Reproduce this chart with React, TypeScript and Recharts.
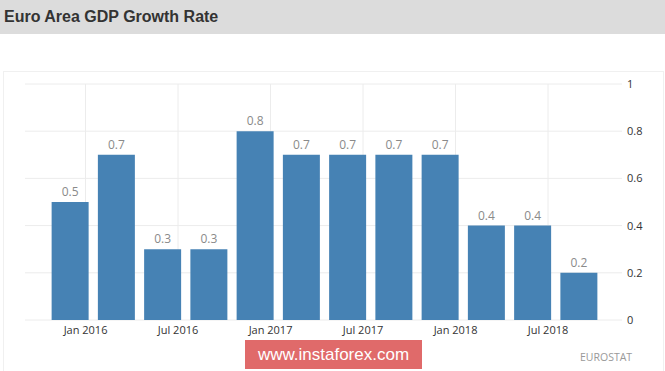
import React from 'react';
import { BarChart, Bar, XAxis, YAxis, CartesianGrid, LabelList } from 'recharts';

// quarterly GDP growth, q/q %
const quarters = ['Q4 2015', 'Q1 2016', 'Q2 2016', 'Q3 2016', 'Q4 2016', 'Q1 2017', 'Q2 2017', 'Q3 2017', 'Q4 2017', 'Q1 2018', 'Q2 2018', 'Q3 2018'];
const growth = [0.5, 0.7, 0.3, 0.3, 0.8, 0.7, 0.7, 0.7, 0.7, 0.4, 0.4, 0.2];
// quarter-end month, counted from Jan 2016
const quarterMonths = [-1, 2, 5, 8, 11, 14, 17, 20, 23, 26, 29, 32];

const tickMonths = [0, 6, 12, 18, 24, 30];
const tickLabels = ['Jan 2016', 'Jul 2016', 'Jan 2017', 'Jul 2017', 'Jan 2018', 'Jul 2018'];
const yTicks = [0, 0.2, 0.4, 0.6, 0.8, 1];

const data = quarters.map((q, i) => ({ quarter: q, month: quarterMonths[i], value: growth[i] }));

const xPad = { left: 22, right: 20 };
const monthDomain = [quarterMonths[0] - 1.5, quarterMonths[quarterMonths.length - 1] + 1.5];
const font = '"Open Sans", "DejaVu Sans", sans-serif';

// vertical grid only at the month ticks
const monthGridX = ({ xAxis, offset }: any) => {
  const s = xAxis && xAxis.scale;
  return tickMonths.map((m) => {
    if (typeof s === 'function') return s(m);
    if (s && typeof s.map === 'function') return s.map(m);
    const w = offset.width - xPad.left - xPad.right;
    return offset.left + xPad.left + ((m - monthDomain[0]) / (monthDomain[1] - monthDomain[0])) * w;
  });
};

export default function App() {
  return (
    <div style={{ position: 'absolute', left: 0, top: 0, width: 665, height: 371, background: '#fff', overflow: 'hidden' }}>
      <div
        style={{
          height: 34,
          background: '#dcdcdc',
          fontFamily: '"Liberation Sans", Arial, sans-serif',
          fontWeight: 'bold',
          fontSize: 16,
          color: '#333',
          lineHeight: '34px',
          paddingLeft: 4,
        }}
      >
        Euro Area GDP Growth Rate
      </div>
      <div style={{ position: 'absolute', left: 3, top: 71, width: 659, height: 310, border: '1px solid #f0f0f0' }} />
      <div style={{ position: 'absolute', left: 0, top: 0 }}>
        <BarChart width={665} height={345} data={data} margin={{ top: 84, right: 3, bottom: 0, left: 25 }} barCategoryGap="10%">
          <CartesianGrid stroke="#ececec" xAxisId="time" verticalCoordinatesGenerator={monthGridX} />
          <XAxis
            xAxisId="cat"
            dataKey="quarter"
            type="category"
            hide
            height={0}
            padding={xPad}
            axisLine={false}
            tickLine={false}
          />
          <XAxis
            xAxisId="time"
            dataKey="month"
            type="number"
            domain={monthDomain}
            allowDataOverflow
            ticks={tickMonths}
            tickFormatter={(m: number) => tickLabels[tickMonths.indexOf(m)]}
            padding={xPad}
            height={25}
            axisLine={false}
            tickLine={false}
            tickSize={0}
            tickMargin={6}
            tick={{ fill: '#333', fontSize: 11, fontFamily: font }}
          />
          <YAxis
            orientation="right"
            domain={[0, 1]}
            ticks={yTicks}
            width={40}
            axisLine={false}
            tickLine={false}
            tickSize={0}
            tickMargin={5}
            tick={{ fill: '#333', fontSize: 11, fontFamily: font }}
          />
          <Bar xAxisId="cat" dataKey="value" fill="#4682b4" isAnimationActive={false}>
            <LabelList dataKey="value" position="top" offset={6} fill="#8a8a8a" fontSize={12} fontFamily={font} />
          </Bar>
        </BarChart>
      </div>
      <div
        style={{
          position: 'absolute',
          left: 245,
          top: 340,
          width: 177,
          height: 29,
          background: '#e06a6a',
          color: '#fff',
          fontFamily: '"Liberation Sans", Arial, sans-serif',
          fontSize: 17,
          lineHeight: '29px',
          textAlign: 'center',
        }}
      >
        www.instaforex.com
      </div>
      <div style={{ position: 'absolute', left: 580, top: 350, fontFamily: font, fontSize: 10.5, color: '#999' }}>EUROSTAT</div>
    </div>
  );
}
